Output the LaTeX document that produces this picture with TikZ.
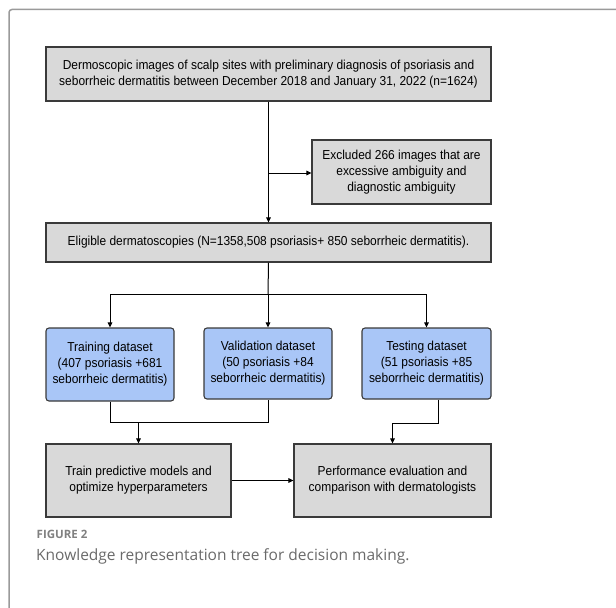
\documentclass[tikz,border=0pt]{standalone}
\usepackage{fontspec}
\setmainfont{Liberation Sans}
\newfontfamily\diagfont[FakeStretch=0.92]{Liberation Sans}
\newfontfamily\capfont{Open Sans}
\usetikzlibrary{arrows.meta}
\definecolor{boxgray}{HTML}{D9D9D9}
\definecolor{boxblue}{HTML}{A9C6F7}
\definecolor{edgegray}{HTML}{3A3A3A}
\definecolor{framegray}{HTML}{9A9A9A}
\definecolor{capgray}{HTML}{808080}
\definecolor{captxt}{HTML}{6A6A6A}
\tikzset{
  graybox/.style={draw=edgegray, fill=boxgray, line width=1.1bp, inner sep=0pt, align=center,
    font=\diagfont\fontsize{13bp}{16bp}\selectfont},
  bluebox/.style={graybox, fill=boxblue, rounded corners=3bp},
  conn/.style={draw=black, line width=1bp},
  arr/.style={conn, -{Triangle[length=5bp,width=4.5bp]}},
}
\begin{document}
\begin{tikzpicture}[x=1bp,y=-1bp]
\useasboundingbox (0,0) rectangle (616,608);
% frame
\draw[framegray, line width=1.5bp, rounded corners=3bp] (9,609) -- (9,9.5) -- (617,9.5);
% nodes
\node[graybox, minimum width=445bp, minimum height=54bp] (top) at (268.5,74)
  {Dermoscopic images of scalp sites with preliminary diagnosis of psoriasis and\\
   seborrheic dermatitis between December 2018 and January 31, 2022 (n=1624)};
\node[graybox, minimum width=179bp, minimum height=64bp] (excl) at (401.5,172)
  {Excluded 266 images that are\\ excessive ambiguity and\\ diagnostic ambiguity};
\node[graybox, minimum width=445bp, minimum height=39bp] (elig) at (268.5,242.5)
  {Eligible dermatoscopies (N=1358,508 psoriasis+ 850 seborrheic dermatitis).};
\node[bluebox, minimum width=128bp, minimum height=73bp] (train) at (110,364.5)
  {Training dataset\\ (407 psoriasis +681\\ seborrheic dermatitis)};
\node[bluebox, minimum width=128bp, minimum height=71bp] (valid) at (268,363.5)
  {Validation dataset\\ (50 psoriasis +84\\ seborrheic dermatitis)};
\node[bluebox, minimum width=129bp, minimum height=71bp] (test) at (426.5,363.5)
  {Testing dataset\\ (51 psoriasis +85\\ seborrheic dermatitis)};
\node[graybox, minimum width=185bp, minimum height=73bp] (model) at (138.5,480.5)
  {Train predictive models and\\ optimize hyperparameters};
\node[graybox, minimum width=197bp, minimum height=73bp] (perf) at (392.5,480.5)
  {Performance evaluation and\\ comparison with dermatologists};
% connectors
\coordinate (exbr) at (268,173);
\coordinate (split) at (268,294);
\coordinate (join) at (110,422);
\coordinate (tj) at (438,423);
\draw[arr] (top.south) -- (elig.north);
\draw[arr] (exbr) -- (exbr -| excl.west);
\draw[conn] (elig.south) -- (split);
\draw[conn] (train.north |- split) -- (test.north |- split);
\draw[arr] (train.north |- split) -- (train.north);
\draw[arr] (split) -- (valid.north);
\draw[arr] (test.north |- split) -- (test.north);
\draw[conn] (train.south) -- (join) -- (valid.south |- join) -- (valid.south);
\draw[arr] (model.north |- join) -- (model.north);
\draw[arr] (test.south -| tj) -- (tj) -| (perf.north);
\draw[arr] (model.east) -- (perf.west);
% caption
\node[anchor=west, inner sep=0pt, text=capgray, font=\capfont\bfseries\fontsize{11.5bp}{14bp}\selectfont] (fig) at (36.5,534) {FIGURE 2};
\node[anchor=west, inner sep=0pt, text=captxt, font=\capfont\fontsize{15.5bp}{18bp}\selectfont] (cap) at (36,556) {Knowledge representation tree for decision making.};
\end{tikzpicture}
\end{document}
